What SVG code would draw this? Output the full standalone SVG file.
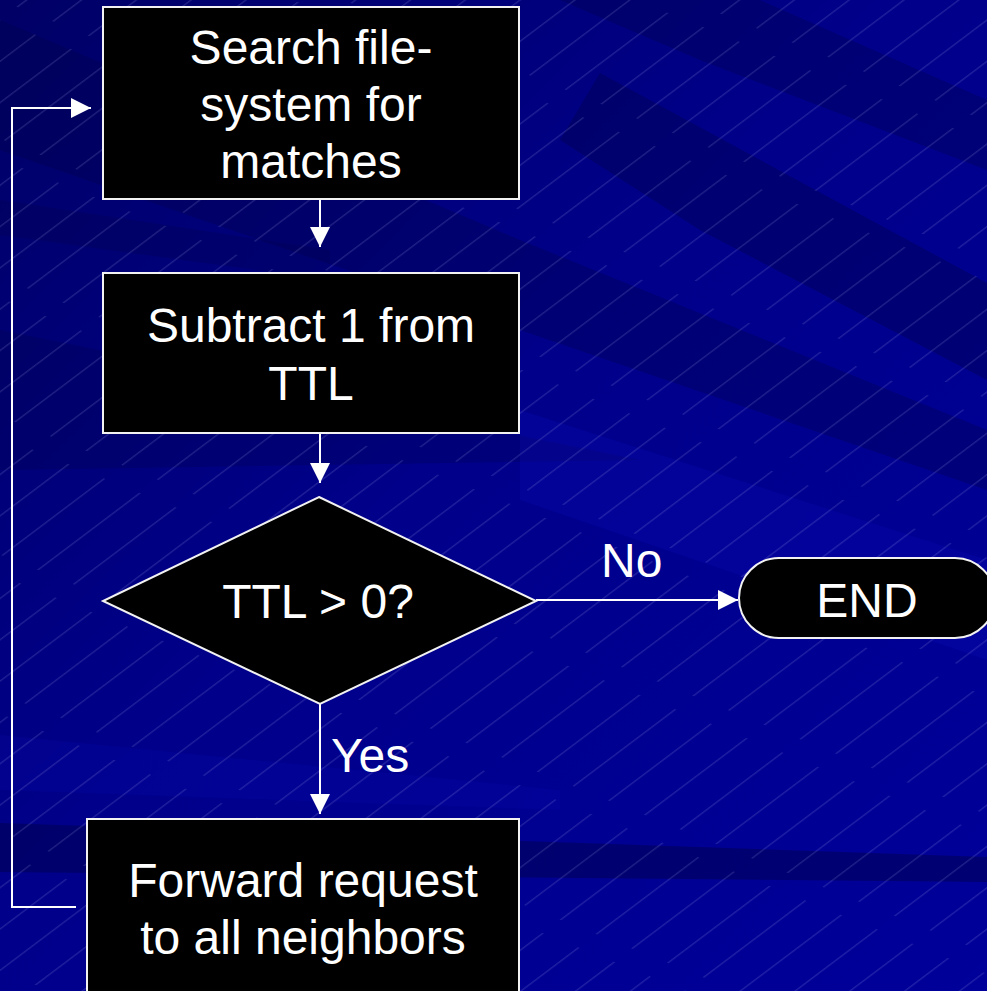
<svg xmlns="http://www.w3.org/2000/svg" width="987" height="991" viewBox="0 0 987 991">
  <defs>
    <style>
      .box { fill: #000000; stroke: #f2f2f2; stroke-width: 2; }
      .lbl { font-family: "Liberation Sans", Arial, sans-serif; font-size: 48px; fill: #ffffff; }
      .mid { text-anchor: middle; }
      .wire { fill: none; stroke: #ffffff; stroke-width: 2; }
      .dark { fill: #000046; }
      .light { fill: #0a0ab4; }
    </style>
    <linearGradient id="bgGrad" x1="0" y1="0" x2="1" y2="1">
      <stop offset="0" stop-color="#000066"/>
      <stop offset="0.45" stop-color="#00008a"/>
      <stop offset="1" stop-color="#00009a"/>
    </linearGradient>
    <!-- faint diagonal hairlines, broken into staggered dashes -->
    <pattern id="hatch" patternUnits="userSpaceOnUse" width="150" height="33" patternTransform="rotate(-37) skewX(31)">
      <line x1="0" y1="16" x2="128" y2="16" stroke="#b4b4f0" stroke-opacity="0.38" stroke-width="0.7"/>
    </pattern>
    <marker id="arrow" markerUnits="userSpaceOnUse" markerWidth="20" markerHeight="20" refX="20" refY="10" orient="auto">
      <path d="M0,0 L20,10 L0,20 Z" fill="#ffffff"/>
    </marker>
  </defs>

  <!-- backdrop: gradient, slanted bands, hairlines -->
  <g id="backdrop">
    <rect x="0" y="0" width="987" height="991" fill="url(#bgGrad)"/>
    <polygon class="dark" opacity="0.3" points="0,20 520,240 987,430 987,490 520,330 0,150"/>
    <polygon class="dark" opacity="0.3" points="560,0 760,0 987,100 987,170 700,60"/>
    <polygon class="dark" opacity="0.35" points="600,73 987,283 987,380 700,230 560,140"/>
    <polygon class="dark" opacity="0.25" points="0,200 330,250 330,280 0,235"/>
    <polygon class="dark" opacity="0.25" points="0,330 640,460 0,470"/>
    <polygon class="light" opacity="0.3" points="520,410 987,560 987,660 520,500"/>
    <polygon class="light" opacity="0.2" points="0,735 560,790 560,810 0,790"/>
    <polygon class="dark" opacity="0.45" points="0,823 987,857 987,882 0,872"/>
    <rect x="0" y="0" width="987" height="991" fill="url(#hatch)"/>
  </g>

  <!-- connectors -->
  <g id="connectors">
    <line class="wire" x1="320" y1="199" x2="320" y2="247" marker-end="url(#arrow)"/>
    <line class="wire" x1="320" y1="433" x2="320" y2="483" marker-end="url(#arrow)"/>
    <line class="wire" x1="536" y1="600" x2="738" y2="600" marker-end="url(#arrow)"/>
    <line class="wire" x1="320" y1="704" x2="320" y2="814" marker-end="url(#arrow)"/>
    <polyline class="wire" points="76,907 12,907 12,108 91,108" marker-end="url(#arrow)"/>
    <text class="lbl" x="601" y="577">No</text>
    <text class="lbl" x="331" y="772">Yes</text>
  </g>

  <!-- process: search -->
  <g id="search">
    <rect class="box" x="103" y="7" width="416" height="192"/>
    <text class="lbl mid" x="311" y="64">Search file-</text>
    <text class="lbl mid" x="311" y="121">system for</text>
    <text class="lbl mid" x="311" y="178">matches</text>
  </g>

  <!-- process: decrement -->
  <g id="decrement">
    <rect class="box" x="103" y="273" width="416" height="160"/>
    <text class="lbl mid" x="311" y="342">Subtract 1 from</text>
    <text class="lbl mid" x="311" y="400">TTL</text>
  </g>

  <!-- decision -->
  <g id="check">
    <polygon class="box" points="319,497 536,601 320,704 103,601"/>
    <text class="lbl mid" x="318" y="618">TTL &gt; 0?</text>
  </g>

  <!-- terminator -->
  <g id="end">
    <rect class="box" x="739" y="558" width="256" height="80" rx="40" ry="40"/>
    <text class="lbl mid" x="867" y="617">END</text>
  </g>

  <!-- process: forward -->
  <g id="forward">
    <rect class="box" x="87" y="819" width="432" height="200"/>
    <text class="lbl mid" x="303" y="897">Forward request</text>
    <text class="lbl mid" x="303" y="954">to all neighbors</text>
  </g>
</svg>
